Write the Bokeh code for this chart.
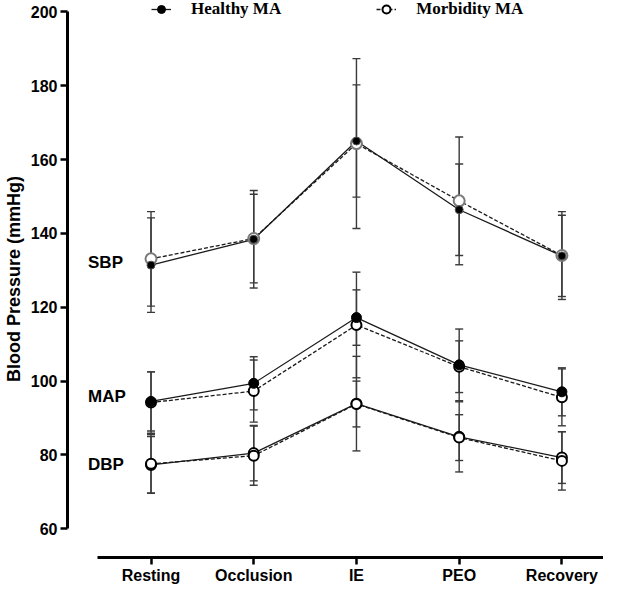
from bokeh.plotting import figure
from bokeh.models import (ColumnDataSource, Whisker, TeeHead, FixedTicker,
                          Legend, LegendItem, Range1d)
from bokeh.core.properties import value
from bokeh.embed import file_html
from bokeh.resources import INLINE

# ---------------- data ----------------
categories = ["Resting", "Occlusion", "IE", "PEO", "Recovery"]

sbp_healthy = [131.4, 138.4, 165.0, 146.4, 133.9]
sbp_healthy_sd = [12.8, 13.2, 15.2, 12.4, 11.0]
sbp_morb = [133.1, 138.6, 164.3, 148.8, 134.0]
sbp_morb_sd = [12.8, 12.0, 23.0, 17.3, 11.9]

map_healthy = [94.5, 99.4, 117.2, 104.4, 97.1]
map_healthy_sd = [8.0, 7.2, 7.5, 9.7, 6.5]
map_morb = [94.2, 97.3, 115.2, 103.9, 95.6]
map_morb_sd = [8.3, 8.4, 14.3, 7.0, 7.7]

dbp_healthy = [77.3, 80.5, 93.9, 84.9, 79.3]
dbp_healthy_sd = [7.7, 7.5, 12.8, 9.5, 7.0]
dbp_morb = [77.6, 79.8, 93.8, 84.7, 78.4]
dbp_morb_sd = [7.9, 8.0, 6.2, 6.2, 7.9]

y_ticks = [60, 80, 100, 120, 140, 160, 180, 200]
group_labels = ["SBP", "MAP", "DBP"]
group_label_y = [132.2, 95.8, 77.3]

series_names = ["Healthy MA", "Morbidity MA"]

# ---------------- figure ----------------
x_idx = list(range(len(categories)))

p = figure(width=603, height=586, output_backend="svg", toolbar_location=None,
           x_range=Range1d(-0.813, 4.405), y_range=Range1d(52.24, 203.05),
           min_border_left=64, min_border_right=0, min_border_top=0,
           min_border_bottom=28)
p.outline_line_color = None
p.grid.visible = False
p.background_fill_color = "white"

FONT = "Liberation Sans"

# y axis
ya = p.yaxis[0]
ya.bounds = (60, 200)
ya.ticker = FixedTicker(ticks=y_ticks)
ya.axis_line_width = 3
ya.axis_line_color = "black"
ya.major_tick_line_width = 2.5
ya.major_tick_line_color = "black"
ya.major_tick_in = 0
ya.major_tick_out = 7
ya.minor_tick_in = 0
ya.minor_tick_out = 0
ya.major_label_standoff = 3
ya.major_label_text_font = FONT
ya.major_label_text_font_style = "bold"
ya.major_label_text_font_size = "16px"
ya.major_label_text_color = "black"
ya.axis_label = "Blood Pressure (mmHg)"
ya.axis_label_text_font = FONT
ya.axis_label_text_font_style = "bold"
ya.axis_label_text_font_size = "18px"
ya.axis_label_text_color = "black"
ya.axis_label_standoff = 4

# x axis
xa = p.xaxis[0]
xa.bounds = (-0.52, 4.405)
xa.ticker = FixedTicker(ticks=x_idx)
xa.major_label_overrides = {i: c for i, c in zip(x_idx, categories)}
xa.axis_line_width = 3
xa.axis_line_color = "black"
xa.major_tick_line_width = 2.5
xa.major_tick_line_color = "black"
xa.major_tick_in = 0
xa.major_tick_out = 7
xa.minor_tick_in = 0
xa.minor_tick_out = 0
xa.major_label_standoff = 2
xa.major_label_text_font = FONT
xa.major_label_text_font_style = "bold"
xa.major_label_text_font_size = "16px"
xa.major_label_text_color = "black"

# ---------------- error bars ----------------
ERR_COLOR = "#3a3a3a"


def add_err(means, sds):
    src = ColumnDataSource(dict(x=x_idx,
                                upper=[m + s for m, s in zip(means, sds)],
                                lower=[m - s for m, s in zip(means, sds)]))
    w = Whisker(base="x", upper="upper", lower="lower", source=src,
                line_color=ERR_COLOR, line_width=1.4,
                upper_head=TeeHead(size=8, line_color=ERR_COLOR, line_width=1.4),
                lower_head=TeeHead(size=8, line_color=ERR_COLOR, line_width=1.4))
    p.add_layout(w)


for m, s in [(sbp_healthy, sbp_healthy_sd), (sbp_morb, sbp_morb_sd),
             (map_healthy, map_healthy_sd), (map_morb, map_morb_sd),
             (dbp_healthy, dbp_healthy_sd), (dbp_morb, dbp_morb_sd)]:
    add_err(m, s)

LINE = "#1a1a1a"
DASH = "4 2"

# ---------------- SBP ----------------
p.line(x_idx, sbp_morb, line_color=LINE, line_width=1.3, line_dash=DASH)
p.line(x_idx, sbp_healthy, line_color=LINE, line_width=1.3)
p.scatter(x_idx, sbp_morb, marker="circle", size=11, fill_color="white",
          line_color="#7a7a7a", line_width=2)
p.scatter(x_idx, sbp_healthy, marker="circle", size=8, fill_color="black",
          line_color="#555555", line_width=1)

# ---------------- MAP ----------------
map_m_line = p.line(x_idx, map_morb, line_color=LINE, line_width=1.3, line_dash=DASH)
map_h_line = p.line(x_idx, map_healthy, line_color=LINE, line_width=1.3)
map_m_mark = p.scatter(x_idx, map_morb, marker="circle", size=10, fill_color="white",
                       line_color="black", line_width=2)
map_h_mark = p.scatter(x_idx, map_healthy, marker="circle", size=10, fill_color="black",
                       line_color="black", line_width=1)

# ---------------- DBP ----------------
p.line(x_idx, dbp_morb, line_color=LINE, line_width=1.3, line_dash=DASH)
p.line(x_idx, dbp_healthy, line_color=LINE, line_width=1.3)
p.scatter(x_idx, dbp_healthy, marker="circle", size=10, fill_color="white",
          line_color="black", line_width=2)
p.scatter(x_idx, dbp_morb, marker="circle", size=10, fill_color="white",
          line_color="black", line_width=2)

# ---------------- group labels ----------------
p.text(x=[x_idx[0]] * len(group_labels), y=group_label_y, text=group_labels,
       text_align="left", text_baseline="middle", x_offset=-63,
       text_font=value(FONT), text_font_style="bold", text_font_size="17px",
       text_color="black")

# ---------------- legend ----------------
legend = Legend(items=[LegendItem(label=series_names[0], renderers=[map_h_line, map_h_mark]),
                       LegendItem(label=series_names[1], renderers=[map_m_line, map_m_mark])],
                location=(84, 538), orientation="horizontal",
                border_line_color=None, background_fill_alpha=0,
                padding=0, margin=0, spacing=95, label_standoff=20,
                glyph_width=20, glyph_height=20,
                label_text_font="Liberation Serif", label_text_font_style="bold",
                label_text_font_size="17px", label_text_color="black")
p.add_layout(legend)

open("out.html", "w").write(file_html(p, INLINE))
